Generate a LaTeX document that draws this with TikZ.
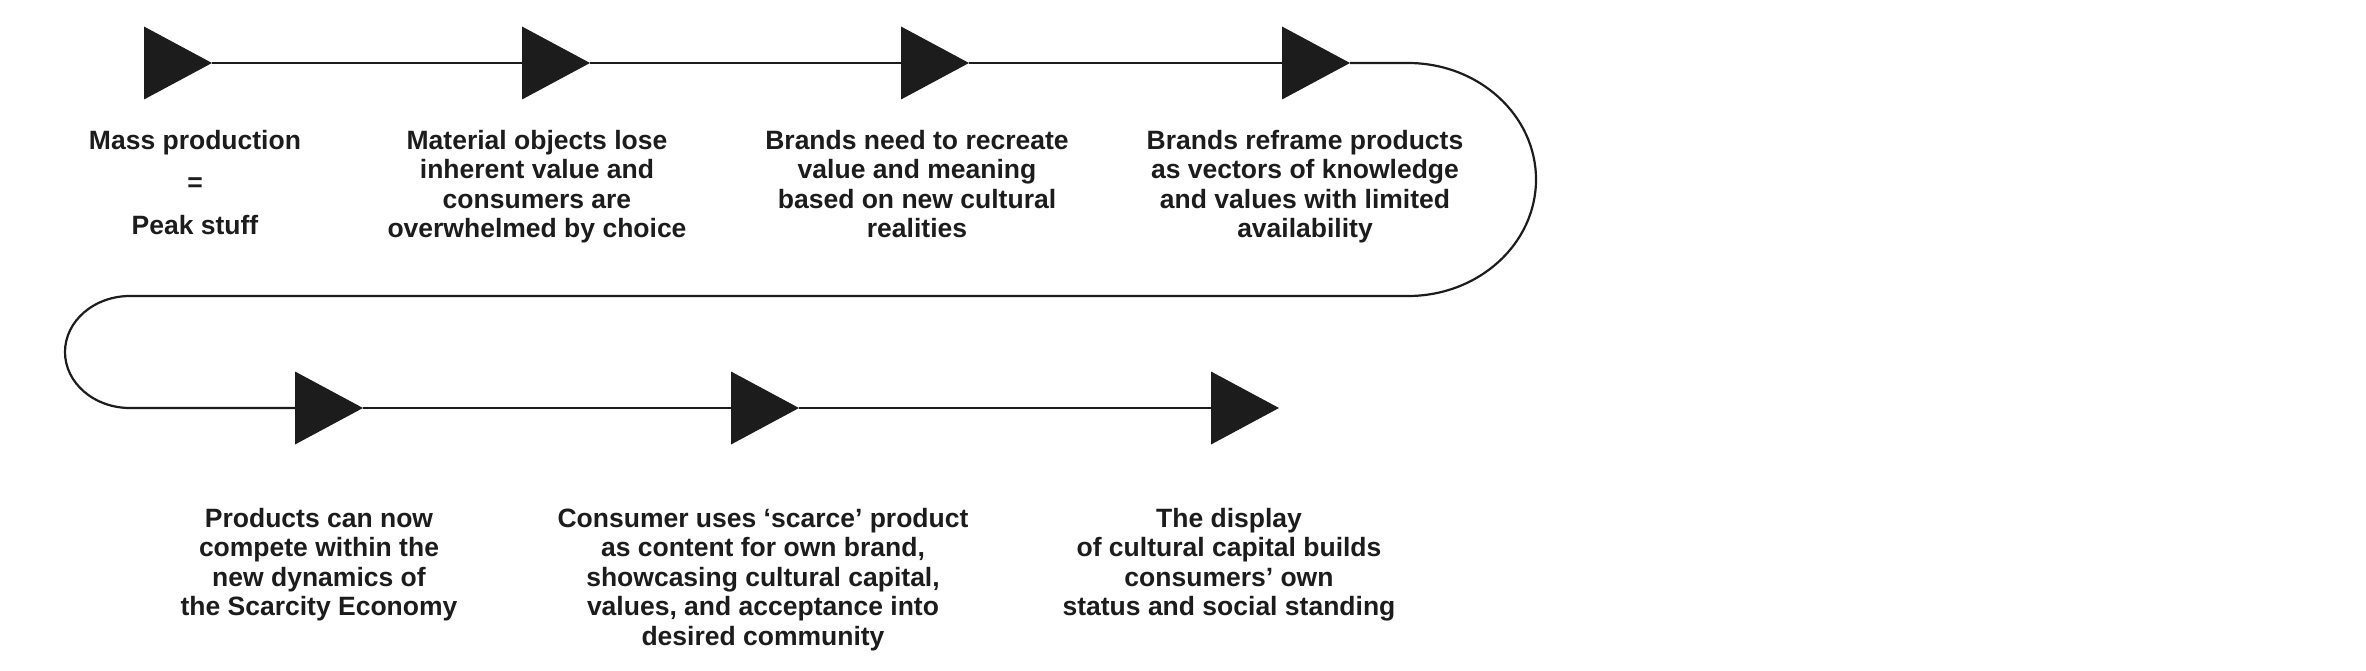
\documentclass[tikz,border=0pt]{standalone}
\usepackage{fontspec}
\setmainfont{Liberation Sans}
\usetikzlibrary{shapes.geometric}
\definecolor{ink}{RGB}{28,28,28}
\tikzset{
  arrowhead/.style={isosceles triangle, isosceles triangle stretches, minimum width=73pt, minimum height=68pt, inner sep=0pt, outer sep=0pt, fill=ink, anchor=apex},
  flow/.style={draw=ink, line width=2.2pt},
  stage/.style={align=center, text=ink, inner sep=0pt, anchor=north, font=\bfseries\fontsize{26.5}{29.5}\selectfont}
}
\begin{document}
\begin{tikzpicture}[x=1pt,y=-1pt]
\useasboundingbox (0,0) rectangle (2366,671);
% arrowheads, top row then bottom row
\node[arrowhead] (a1) at (212,63) {};
\node[arrowhead] (a2) at (590,63) {};
\node[arrowhead] (a3) at (969,63) {};
\node[arrowhead] (a4) at (1350,63) {};
\node[arrowhead] (a5) at (363,408) {};
\node[arrowhead] (a6) at (799,408) {};
\node[arrowhead] (a7) at (1279,408) {};
\coordinate (turnR) at (1408,63);
\coordinate (turnL) at (130,296);
% the winding line
\draw[flow] (a1.apex) -- (a2.west);
\draw[flow] (a2.apex) -- (a3.west);
\draw[flow] (a3.apex) -- (a4.west);
\draw[flow] (a4.apex) -- (turnR) arc[start angle=90, end angle=-90, x radius=128pt, y radius=116.5pt]
  -- (turnL) arc[start angle=90, end angle=270, x radius=65pt, y radius=56pt] -- (a5.west);
\draw[flow] (a5.apex) -- (a6.west);
\draw[flow] (a6.apex) -- (a7.west);
% stage texts
\node[stage] (s1) at (195,130) {Mass production\\[13pt]=\\[13pt]Peak stuff};
\node[stage] (s2) at (537,130) {Material objects lose\\inherent value and\\consumers are\\overwhelmed by choice};
\node[stage] (s3) at (917,130) {Brands need to recreate\\value and meaning\\based on new cultural\\realities};
\node[stage] (s4) at (1305,130) {Brands reframe products\\as vectors of knowledge\\and values with limited\\availability};
\node[stage] (s5) at (319,508) {Products can now\\compete within the\\new dynamics of\\the Scarcity Economy};
\node[stage] (s6) at (763,508) {Consumer uses ‘scarce’ product\\as content for own brand,\\showcasing cultural capital,\\values, and acceptance into\\desired community};
\node[stage] (s7) at (1229,508) {The display\\of cultural capital builds\\consumers’ own\\status and social standing};
\end{tikzpicture}
\end{document}
